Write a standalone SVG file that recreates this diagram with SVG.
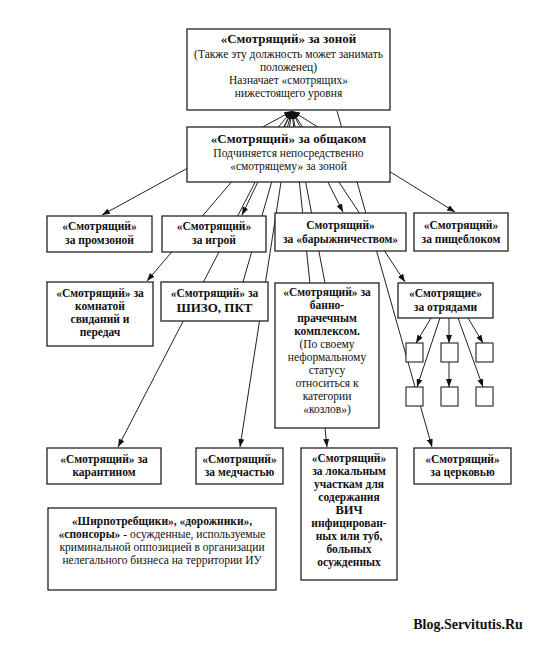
<svg xmlns="http://www.w3.org/2000/svg" width="550" height="646" viewBox="0 0 550 646">
<style>
.bx{fill:#fff;stroke:#222;stroke-width:1.3}
.sq{fill:#fff;stroke:#222;stroke-width:1.1}
.ln{stroke:#222;stroke-width:1;fill:none}
text{font-family:"Liberation Serif","Times New Roman",serif;font-size:11.5px;fill:#111;text-anchor:middle}
.b{font-weight:bold}
.t{font-size:13px;font-weight:bold}
</style>
<defs>
<marker id="ah" viewBox="0 0 8 6" refX="8" refY="3" markerWidth="8" markerHeight="6" markerUnits="userSpaceOnUse" orient="auto-start-reverse">
<path d="M0,0 L8,3 L0,6 z" fill="#111"/>
</marker>
</defs>
<rect width="550" height="646" fill="#fff"/>
<g id="connectors">
<line class="ln" x1="292" y1="111" x2="102" y2="215" marker-start="url(#ah)" marker-end="url(#ah)"/>
<line class="ln" x1="292" y1="111" x2="147" y2="281" marker-start="url(#ah)" marker-end="url(#ah)"/>
<line class="ln" x1="292" y1="111" x2="242" y2="215" marker-start="url(#ah)" marker-end="url(#ah)"/>
<line class="ln" x1="292" y1="111" x2="118" y2="447" marker-start="url(#ah)" marker-end="url(#ah)"/>
<line class="ln" x1="292" y1="111" x2="243" y2="282" marker-start="url(#ah)"/>
<line class="ln" x1="292" y1="111" x2="240" y2="447" marker-start="url(#ah)" marker-end="url(#ah)"/>
<line class="ln" x1="292" y1="111" x2="327" y2="447" marker-start="url(#ah)" marker-end="url(#ah)"/>
<line class="ln" x1="292" y1="111" x2="325" y2="283" marker-start="url(#ah)"/>
<line class="ln" x1="292" y1="111" x2="343" y2="212" marker-start="url(#ah)" marker-end="url(#ah)"/>
<line class="ln" x1="292" y1="111" x2="405" y2="282" marker-start="url(#ah)" marker-end="url(#ah)"/>
<line class="ln" x1="292" y1="111" x2="455" y2="212" marker-start="url(#ah)" marker-end="url(#ah)"/>
<line class="ln" x1="337" y1="111" x2="432" y2="447" marker-end="url(#ah)"/>
<line class="ln" x1="431" y1="318" x2="416" y2="343" marker-end="url(#ah)"/>
<line class="ln" x1="449" y1="318" x2="449" y2="343" marker-end="url(#ah)"/>
<line class="ln" x1="468" y1="318" x2="483" y2="343" marker-end="url(#ah)"/>
<line class="ln" x1="449" y1="362" x2="449" y2="387" marker-end="url(#ah)"/>
<line class="ln" x1="440" y1="318" x2="417" y2="387" marker-end="url(#ah)"/>
<line class="ln" x1="458" y1="318" x2="483" y2="387" marker-end="url(#ah)"/>
</g>
<g id="zona">
<rect class="bx" x="187" y="29" width="203" height="81"/>
<text class="t" x="288.5" y="43">«Смотрящий» за зоной</text>
<text x="288.5" y="58">(Также эту должность может занимать</text>
<text x="288.5" y="71">положенец)</text>
<text x="288.5" y="84">Назначает «смотрящих»</text>
<text x="288.5" y="97">нижестоящего уровня</text>
</g>
<g id="obshchak">
<rect class="bx" x="187" y="127" width="203" height="55"/>
<text class="t" x="288.5" y="143">«Смотрящий» за общаком</text>
<text x="288.5" y="157">Подчиняется непосредственно</text>
<text x="288.5" y="170">«смотрящему» за зоной</text>
</g>
<g id="promzona">
<rect class="bx" x="47" y="216" width="105" height="36"/>
<text class="b" x="99.5" y="230">«Смотрящий»</text>
<text class="b" x="99.5" y="244">за промзоной</text>
</g>
<g id="igra">
<rect class="bx" x="162" y="216" width="104" height="36"/>
<text class="b" x="214" y="230">«Смотрящий»</text>
<text class="b" x="214" y="244">за игрой</text>
</g>
<g id="baryga">
<rect class="bx" x="275" y="213" width="131" height="38"/>
<text class="b" x="340.5" y="229">Смотрящий»</text>
<text class="b" x="340.5" y="243">за «барыжничеством»</text>
</g>
<g id="pishcheblok">
<rect class="bx" x="414" y="213" width="94" height="38"/>
<text class="b" x="461" y="229">«Смотрящий»</text>
<text class="b" x="461" y="243">за пищеблоком</text>
</g>
<g id="komnata">
<rect class="bx" x="47" y="282" width="106" height="64"/>
<text class="b" x="100" y="297">«Смотрящий» за</text>
<text class="b" x="100" y="310">комнатой</text>
<text class="b" x="100" y="323">свиданий и</text>
<text class="b" x="100" y="336">передач</text>
</g>
<g id="shizo">
<rect class="bx" x="161" y="282" width="107" height="39"/>
<text class="b" x="214.5" y="297">«Смотрящий» за</text>
<text class="t" x="214.5" y="312">ШИЗО, ПКТ</text>
</g>
<g id="banno">
<rect class="bx" x="275" y="283" width="104" height="145"/>
<text class="b" x="327" y="296">«Смотрящий» за</text>
<text class="b" x="327" y="309">банно-</text>
<text class="b" x="327" y="322">прачечным</text>
<text class="b" x="327" y="335">комплексом.</text>
<text x="327" y="348">(По своему</text>
<text x="327" y="361">неформальному</text>
<text x="327" y="374">статусу</text>
<text x="327" y="387">относиться к</text>
<text x="327" y="400">категории</text>
<text x="327" y="413">«козлов»)</text>
</g>
<g id="otryady">
<rect class="bx" x="398" y="283" width="95" height="35"/>
<text class="b" x="445.5" y="297">«Смотрящие»</text>
<text class="b" x="445.5" y="311">за отрядами</text>
</g>
<g id="sq1"><rect class="sq" x="406" y="343" width="17" height="19"/></g>
<g id="sq2"><rect class="sq" x="441" y="343" width="17" height="19"/></g>
<g id="sq3"><rect class="sq" x="476" y="343" width="17" height="19"/></g>
<g id="sq4"><rect class="sq" x="406" y="387" width="17" height="19"/></g>
<g id="sq5"><rect class="sq" x="441" y="387" width="17" height="19"/></g>
<g id="sq6"><rect class="sq" x="476" y="387" width="17" height="19"/></g>
<g id="karantin">
<rect class="bx" x="47" y="448" width="114" height="36"/>
<text class="b" x="104" y="463">«Смотрящий» за</text>
<text class="b" x="104" y="476">карантином</text>
</g>
<g id="medchast">
<rect class="bx" x="196" y="448" width="87" height="36"/>
<text class="b" x="239.5" y="463">«Смотрящий»</text>
<text class="b" x="239.5" y="476">за медчастью</text>
</g>
<g id="lokal">
<rect class="bx" x="301" y="448" width="96" height="132"/>
<text class="b" x="349" y="462">«Смотрящий»</text>
<text class="b" x="349" y="475">за локальным</text>
<text class="b" x="349" y="488">участкам для</text>
<text class="b" x="349" y="501">содержания</text>
<text class="b" x="349" y="514" style="font-size:12.5px">ВИЧ</text>
<text class="b" x="349" y="527">инфицирован-</text>
<text class="b" x="349" y="540">ных или туб,</text>
<text class="b" x="349" y="553">больных</text>
<text class="b" x="349" y="566">осужденных</text>
</g>
<g id="tserkov">
<rect class="bx" x="414" y="448" width="97" height="36"/>
<text class="b" x="462.5" y="463">«Смотрящий»</text>
<text class="b" x="462.5" y="476">за церковью</text>
</g>
<g id="shirpotreb">
<rect class="bx" x="48" y="508" width="228" height="82"/>
<text class="b" x="162" y="525">«Ширпотребщики», «дорожники»,</text>
<text x="162" y="538"><tspan font-weight="bold">«спонсоры»</tspan> - осужденные, используемые</text>
<text x="162" y="551">криминальной оппозицией в организации</text>
<text x="162" y="564">нелегального бизнеса на территории ИУ</text>
</g>
<text class="b" x="468" y="629" style="font-size:14px">Blog.Servitutis.Ru</text>
</svg>
